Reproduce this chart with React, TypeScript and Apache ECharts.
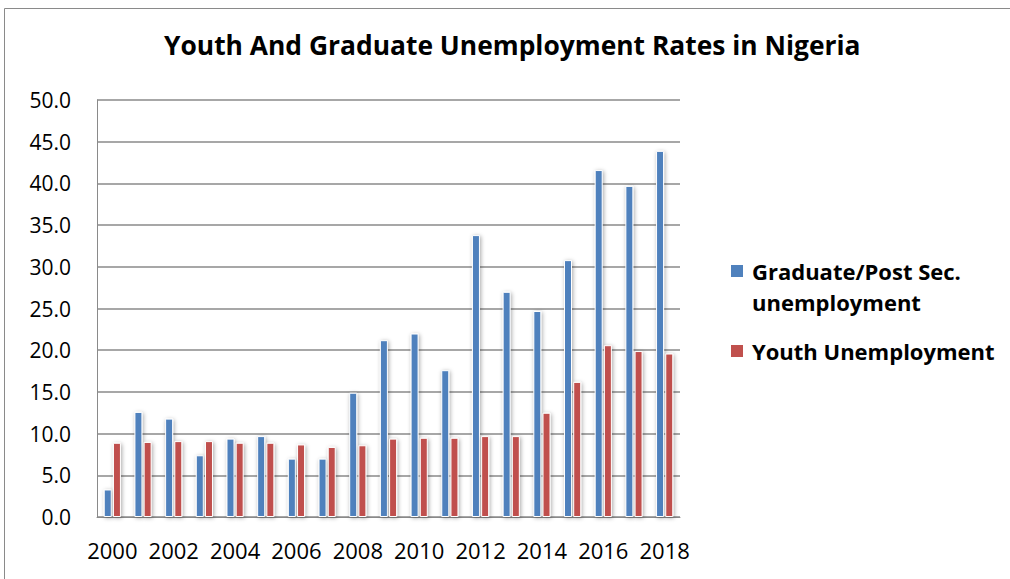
import React, { useEffect, useRef } from "react";
import * as echarts from "echarts";

const years = ["2000","2001","2002","2003","2004","2005","2006","2007","2008","2009","2010","2011","2012","2013","2014","2015","2016","2017","2018"];
const graduateRates = [3.3, 12.6, 11.8, 7.4, 9.4, 9.7, 7.0, 7.0, 14.9, 21.2, 22.0, 17.6, 33.8, 27.0, 24.7, 30.8, 41.6, 39.7, 43.9];
const youthRates = [8.9, 9.0, 9.1, 9.1, 8.9, 8.9, 8.7, 8.4, 8.6, 9.4, 9.5, 9.5, 9.7, 9.7, 12.5, 16.2, 20.6, 19.9, 19.6];
const seriesNames = ["Graduate/Post Sec. unemployment", "Youth Unemployment"];
const titleText = "Youth And Graduate Unemployment Rates in Nigeria";

export default function App() {
  const ref = useRef<HTMLDivElement>(null);
  useEffect(() => {
    if (!ref.current) return;
    const chart = echarts.init(ref.current, null, { renderer: "svg" });
    const font = "'Open Sans', sans-serif";
    const barStyle = (color: string) => ({
      color,
      borderColor: "#ffffff",
      borderWidth: 1,
      shadowBlur: 4,
      shadowColor: "rgba(0,0,0,0.35)",
      shadowOffsetX: 1,
      shadowOffsetY: 1,
    });
    const legendItemStyle = { borderWidth: 0, shadowBlur: 0, shadowColor: "transparent" };
    chart.setOption({
      animation: false,
      backgroundColor: "#ffffff",
      title: {
        text: titleText,
        left: 164,
        top: 32,
        padding: 0,
        textStyle: { fontFamily: font, fontSize: 26.4, fontWeight: "bold", color: "#000" },
      },
      graphic: [
        {
          type: "rect",
          shape: { x: 4.5, y: 8.5, width: 1200, height: 800 },
          style: { fill: "none", stroke: "#8a8a8a", lineWidth: 1 },
          silent: true,
        },
      ],
      legend: [
        {
          data: [seriesNames[0]],
          orient: "vertical",
          left: 731,
          top: 271 - 46.5,
          padding: 0,
          icon: "rect",
          itemWidth: 12,
          itemHeight: 12,
          itemGap: 0,
          itemStyle: legendItemStyle,
          formatter: () => "\nGraduate/Post Sec.\nunemployment",
          textStyle: {
            fontFamily: font, fontSize: 22, fontWeight: "bold", color: "#000",
            lineHeight: 31, padding: [0, 0, 0, 4],
          },
        },
        {
          data: [seriesNames[1]],
          orient: "vertical",
          left: 731,
          top: 351 - 15.5,
          padding: 0,
          icon: "rect",
          itemWidth: 12,
          itemHeight: 12,
          itemStyle: legendItemStyle,
          formatter: (n: string) => n,
          textStyle: {
            fontFamily: font, fontSize: 22, fontWeight: "bold", color: "#000",
            lineHeight: 31, padding: [0, 0, 0, 4],
          },
        },
      ],
      grid: { left: 97, right: 330, top: 100, bottom: 62, containLabel: false },
      xAxis: {
        type: "category",
        data: years,
        boundaryGap: true,
        axisLine: { show: true, lineStyle: { color: "#8a8a8a", width: 1 } },
        axisTick: { show: false },
        axisLabel: { interval: 1, fontFamily: font, fontSize: 22, color: "#000", margin: 22 },
      },
      yAxis: {
        type: "value",
        min: 0,
        max: 50,
        interval: 5,
        axisLine: { show: true, lineStyle: { color: "#8a8a8a", width: 1 } },
        axisTick: { show: false },
        splitLine: { show: true, lineStyle: { color: "#8a8a8a", width: 1.5 } },
        axisLabel: { fontFamily: font, fontSize: 21, color: "#000", margin: 26, formatter: (v: number) => v.toFixed(1) },
      },
      series: [
        { name: seriesNames[0], type: "bar", data: graduateRates, barWidth: 8, barGap: "15%", itemStyle: barStyle("#4F81BD") },
        { name: seriesNames[1], type: "bar", data: youthRates, barWidth: 8, barGap: "15%", itemStyle: barStyle("#C0504D") },
      ],
    });
    return () => chart.dispose();
  }, []);
  return <div ref={ref} style={{ position: "fixed", left: 0, top: 0, width: 1010, height: 579 }} />;
}
